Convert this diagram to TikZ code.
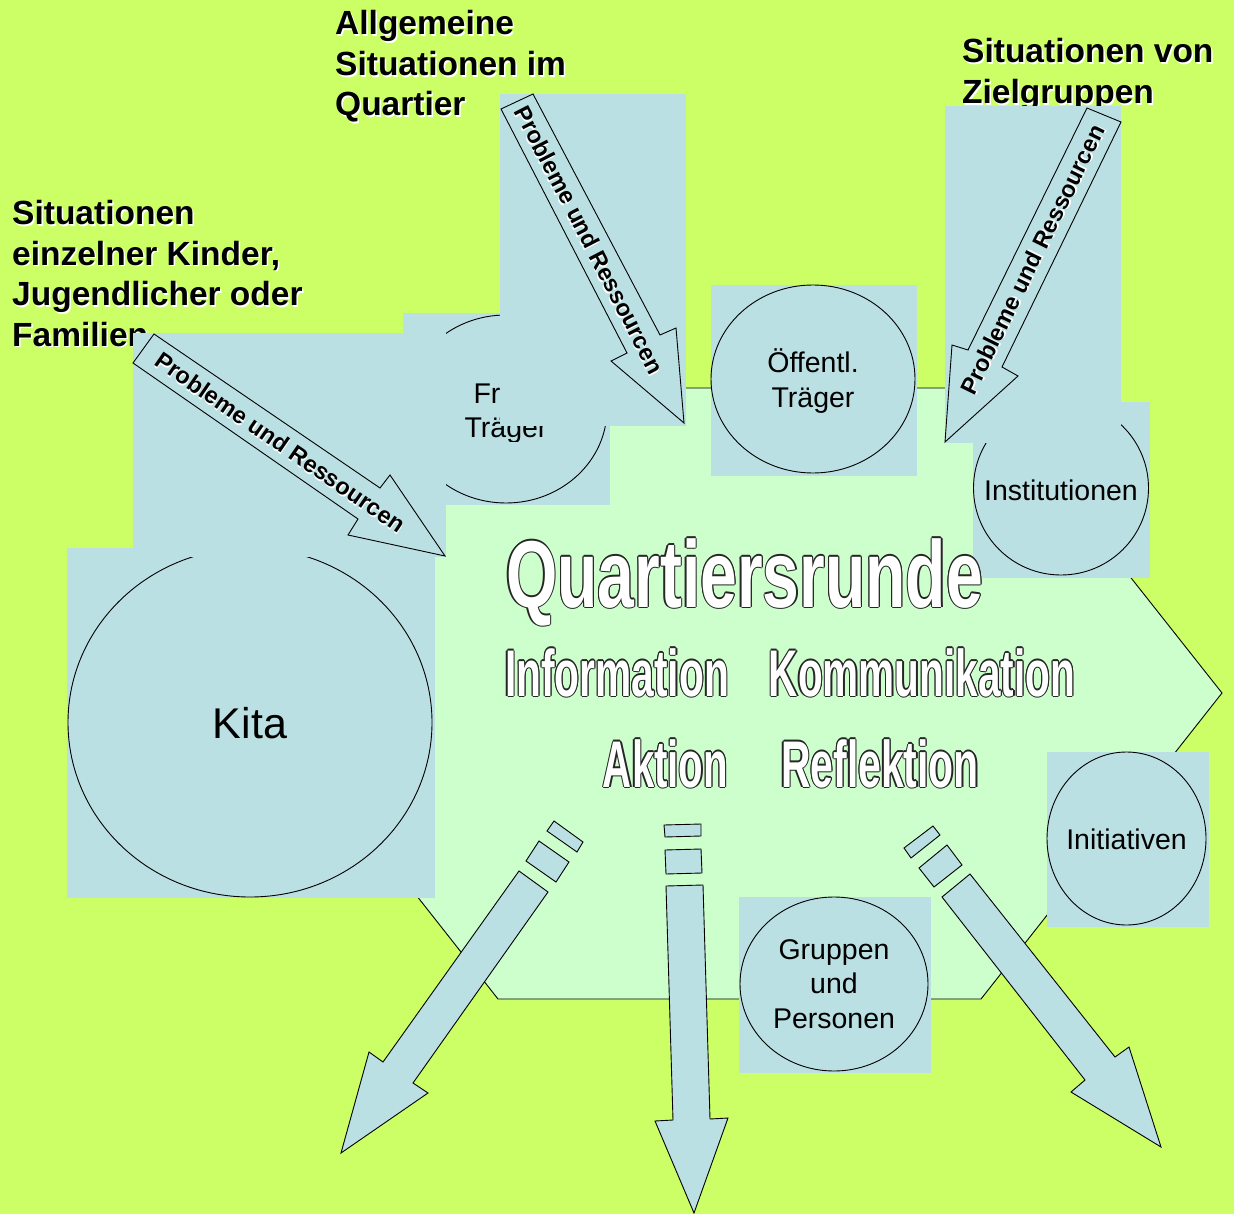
\documentclass[tikz,border=0pt]{standalone}
\usepackage{fontspec}
\setmainfont{Liberation Sans}
\usetikzlibrary{shapes.geometric}
\definecolor{bgc}{RGB}{204,255,102}
\definecolor{hexgreen}{RGB}{204,255,204}
\definecolor{boxblue}{RGB}{187,224,227}
\newcommand\headfont{\fontsize{33.5}{40}\selectfont\bfseries}
\newcommand\lblfont{\fontsize{28.5}{34.5}\selectfont}
\newcommand\arrfont{\fontsize{23.5}{28}\selectfont\bfseries}
\newcommand\wshadow[1]{\leavevmode\rlap{\color{white}\hspace*{1.5pt}\raisebox{-1.5pt}{#1}}#1}
\newcommand\olined[1]{\leavevmode
  \rlap{\color{black!85}\hspace*{-1.2pt}#1}%
  \rlap{\color{black!85}\hspace*{1.2pt}#1}%
  \rlap{\color{black!85}\raisebox{1.2pt}{#1}}%
  \rlap{\color{black!85}\raisebox{-1.2pt}{#1}}%
  \rlap{\color{black!85}\hspace*{-0.85pt}\raisebox{0.85pt}{#1}}%
  \rlap{\color{black!85}\hspace*{0.85pt}\raisebox{0.85pt}{#1}}%
  \rlap{\color{black!85}\hspace*{-0.85pt}\raisebox{-0.85pt}{#1}}%
  \rlap{\color{black!85}\hspace*{0.85pt}\raisebox{-0.85pt}{#1}}%
  {\color{white}#1}}
\newcommand\bigword[3]{\olined{\scalebox{#2}[1]{\fontsize{#1}{#1}\selectfont\bfseries #3}}}
\tikzset{
  bluebox/.style={fill=boxblue, draw=none},
  circ/.style={ellipse, draw=black, line width=0.9pt, fill=boxblue, inner sep=0pt},
  lbl/.style={inner sep=0pt, font=\lblfont, align=center},
  blockarrow/.style={fill=boxblue, draw=black, line width=0.9pt, line join=miter},
  hexa/.style={fill=hexgreen, draw=black, line width=0.9pt},
  heading/.style={anchor=base west, inner sep=0pt, font=\headfont},
  arrowtext/.style={inner sep=0pt, font=\arrfont},
  outl/.style={anchor=base, inner sep=0pt}
}
\begin{document}
\begin{tikzpicture}[x=1pt,y=-1pt]
\useasboundingbox (0,0) rectangle (1234,1214);
\fill[bgc] (0,0) rectangle (1234,1214);

% central hexagon arrow
\draw[hexa] (498,388) -- (981,388) -- (1222,693) -- (981,999) -- (498,999) -- (257,693) -- cycle;

% headings
\node[heading] (h1a) at (12,225) {\wshadow{Situationen}};
\node[heading] (h1b) at (12,265.5) {\wshadow{einzelner Kinder,}};
\node[heading] (h1c) at (12,306) {\wshadow{Jugendlicher oder}};
\node[heading] (h1d) at (12,346.5) {\wshadow{Familien}};
\node[heading] (h2a) at (335,35) {\wshadow{Allgemeine}};
\node[heading] (h2b) at (335,76) {\wshadow{Situationen im}};
\node[heading] (h2c) at (335,116) {\wshadow{Quartier}};
\node[heading] (h3a) at (962,63) {\wshadow{Situationen von}};
\node[heading] (h3b) at (962,104) {\wshadow{Zielgruppen}};

% Kita
\fill[bluebox] (67,548) rectangle (435,898);
\node[circ, minimum width=364pt, minimum height=349pt] (kita) at (250,722.5) {};
\node[inner sep=0pt, anchor=base, font=\fontsize{43}{50}\selectfont] (kitaT) at (250,738) {Kita};

% Freie Traeger
\fill[bluebox] (403,313) rectangle (610,505);
\node[circ, minimum width=202pt, minimum height=188pt] (frei) at (506,409) {};
\begin{scope}
  \clip (403,313) rectangle (545.5,441);
  \node[lbl] (freiT) at (506,413) {Freie\\Träger};
\end{scope}

% Institutionen
\fill[bluebox] (973,402) rectangle (1150,578);
\node[circ, minimum width=175pt, minimum height=174pt] (inst) at (1061,488) {};
\node[lbl, anchor=base] (instT) at (1061,500) {Institutionen};

% Oeffentl. Traeger
\fill[bluebox] (711,285) rectangle (917,476);
\node[circ, minimum width=204pt, minimum height=188pt] (oeff) at (813,379) {};
\node[lbl] (oeffT) at (813,381) {Öffentl.\\Träger};

% left incoming arrow
\fill[bluebox] (133,333) rectangle (446,557);
\draw[blockarrow] (154,334) -- (380,488) -- (390,475) -- (445,556) -- (348,535) -- (358,519) -- (133,363) -- cycle;
\node[arrowtext, rotate=-34.6] (laT) at (280,443) {\wshadow{Probleme und Ressourcen}};

% middle incoming arrow
\fill[bluebox] (500,94) rectangle (686,426);
\draw[blockarrow] (533,94) -- (660,335) -- (676,328) -- (684,423) -- (611,361) -- (627,353) -- (501,109) -- cycle;
\node[arrowtext, rotate=-62.7] (maT) at (589,240) {\wshadow{Probleme und Ressourcen}};

% right incoming arrow
\fill[bluebox] (945,106) rectangle (1121,443);
\draw[blockarrow] (1087,108) -- (968,350) -- (952,345) -- (945,442) -- (1018,376) -- (1002,367) -- (1121,122) -- cycle;
\node[arrowtext, rotate=63.8] (raT) at (1033,260) {\wshadow{Probleme und Ressourcen}};

% Initiativen
\fill[bluebox] (1047,752) rectangle (1209,927);
\node[circ, minimum width=159pt, minimum height=173pt] (init) at (1126.5,838.5) {};
\node[lbl, anchor=base] (initT) at (1126.5,849) {Initiativen};

% Gruppen und Personen
\fill[bluebox] (739,897) rectangle (931,1073);
\node[circ, minimum width=188pt, minimum height=174pt] (grp) at (834,984) {};
\node[lbl] (grpT) at (834,984) {Gruppen\\und\\Personen};

% outgoing arrows: bottom left
\draw[blockarrow] (554,821) -- (583,842) -- (577,852) -- (547,831) -- cycle;
\draw[blockarrow] (539,841) -- (569,862) -- (556,882) -- (526,861) -- cycle;
\draw[blockarrow] (519,871) -- (548,892) -- (413,1083) -- (428,1093) -- (341,1153) -- (369,1052) -- (383,1062) -- cycle;
% bottom middle
\draw[blockarrow] (664,825) -- (701,824) -- (701,836) -- (665,837) -- cycle;
\draw[blockarrow] (665,850) -- (701,849) -- (702,873) -- (666,874) -- cycle;
\draw[blockarrow] (666,886) -- (703,885) -- (710,1119) -- (728,1118) -- (694,1213) -- (655,1121) -- (673,1120) -- cycle;
% bottom right
\draw[blockarrow] (904,848) -- (933,826) -- (940,835) -- (911,858) -- cycle;
\draw[blockarrow] (919,868) -- (947,845) -- (962,865) -- (934,887) -- cycle;
\draw[blockarrow] (942,897) -- (970,874) -- (1115,1057) -- (1129,1047) -- (1161,1147) -- (1071,1092) -- (1085,1080) -- cycle;

% central outlined texts
\node[outl] (quart) at (744.5,607) {\bigword{95}{0.695}{Quartiersrunde}};
\node[outl] (info) at (617,696) {\bigword{66}{0.617}{Information}};
\node[outl] (komm) at (922,696) {\bigword{66}{0.614}{Kommunikation}};
\node[outl] (akt) at (665.5,787) {\bigword{66}{0.609}{Aktion}};
\node[outl] (refl) at (880,787) {\bigword{66}{0.62}{Reflektion}};
\end{tikzpicture}
\end{document}
